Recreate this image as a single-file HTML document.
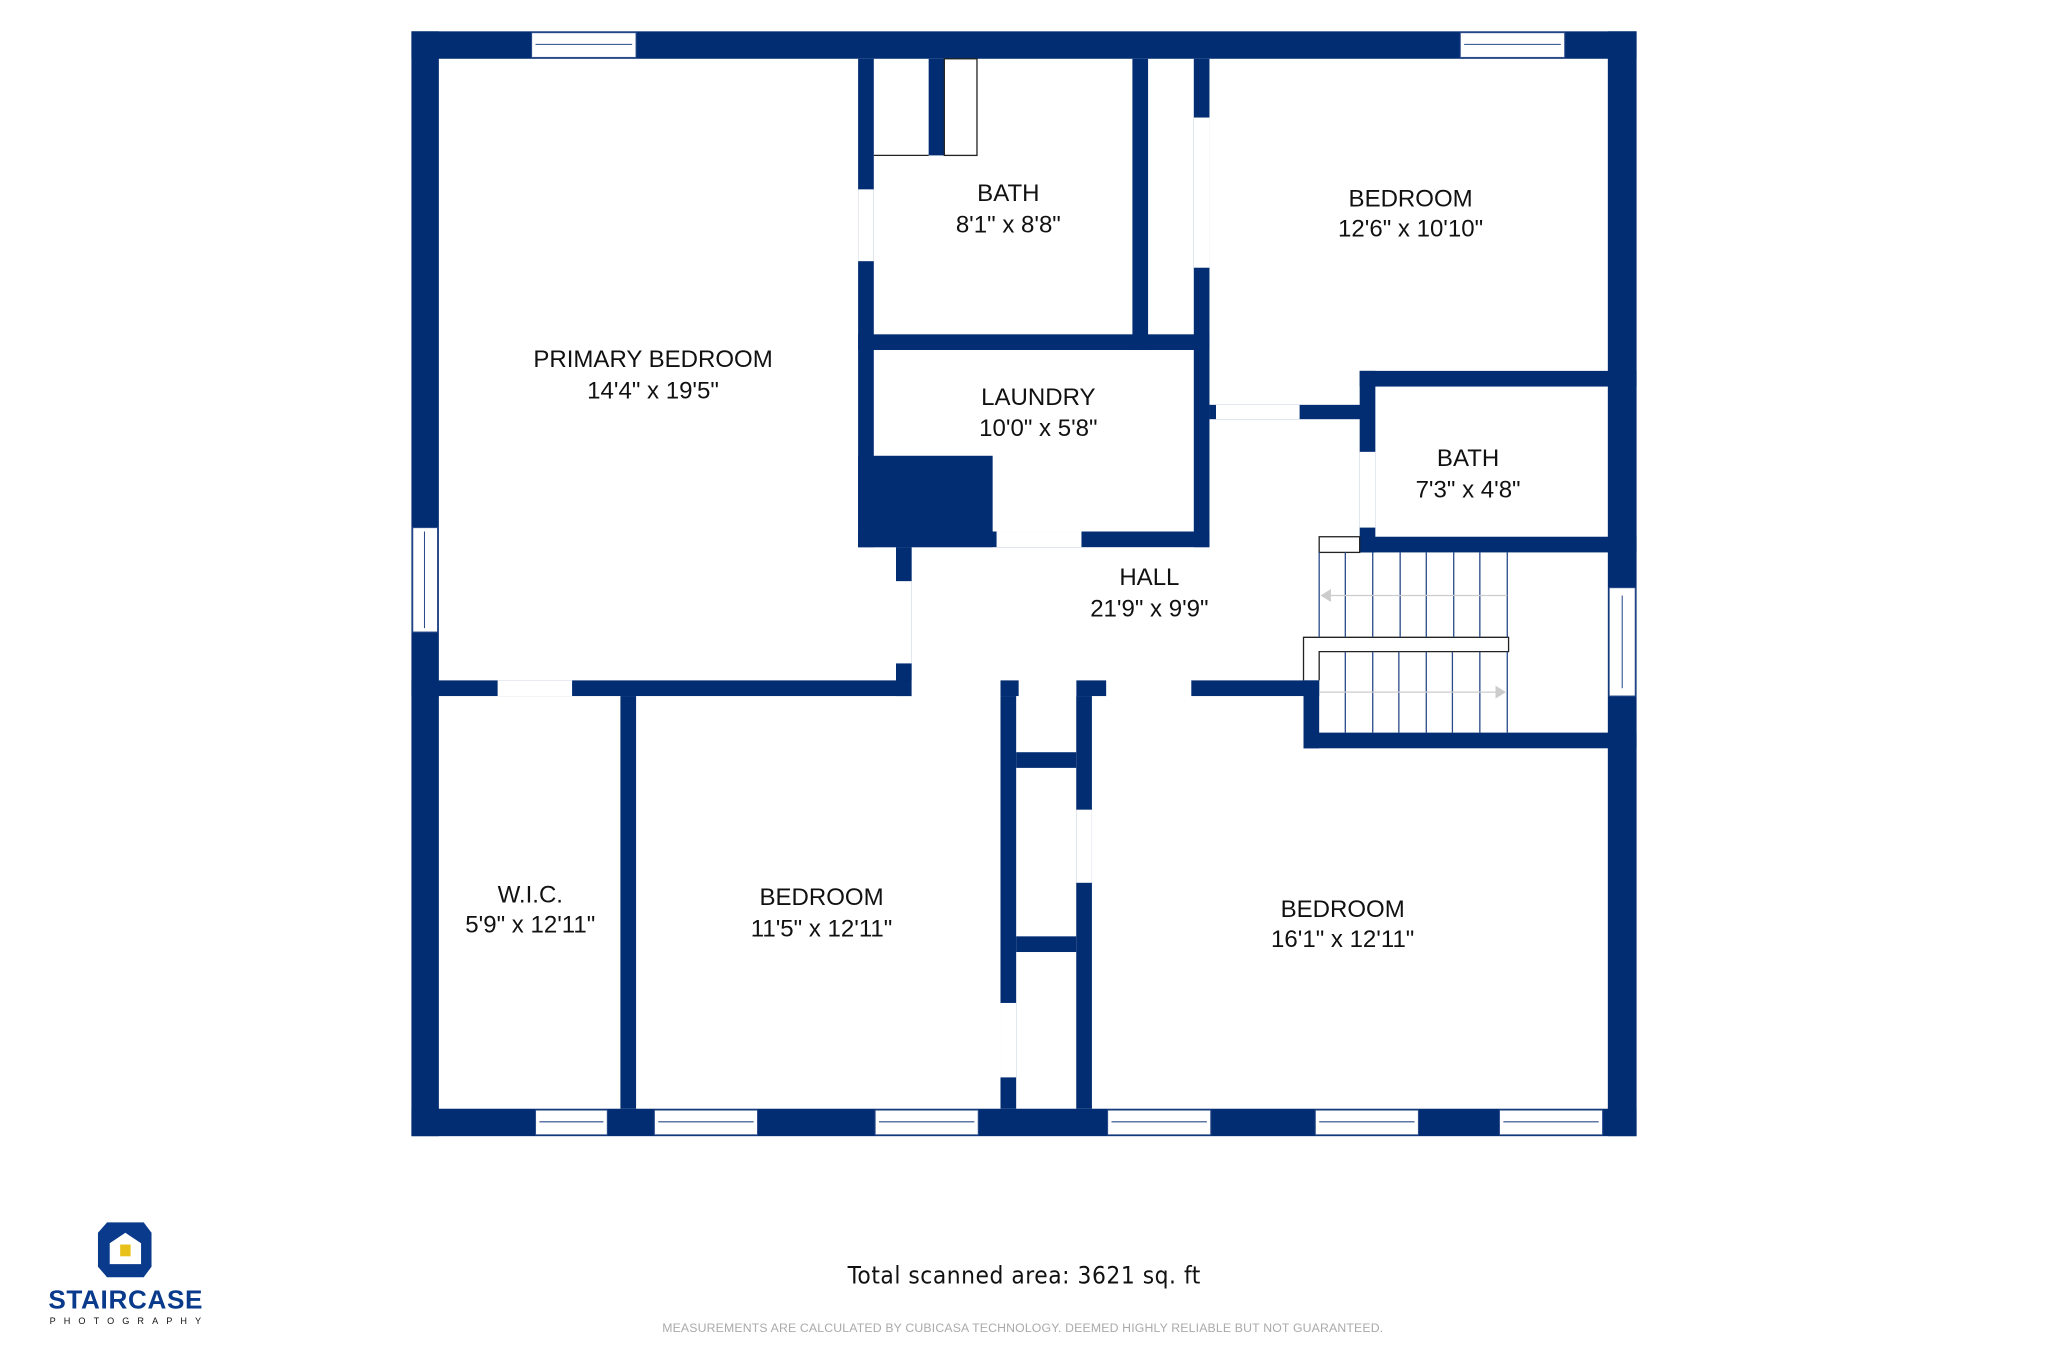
<!DOCTYPE html>
<html><head><meta charset="utf-8"><style>
html,body{margin:0;padding:0;background:#fff;}
svg{display:block;}
text{font-family:"Liberation Sans",sans-serif;fill:#111;}
</style></head><body>
<svg width="2048" height="1366" viewBox="0 0 1568 1046" preserveAspectRatio="none" xmlns="http://www.w3.org/2000/svg">
<g fill="#022d72">
<rect x="315" y="24" width="938" height="21"/>
<rect x="315" y="24" width="21" height="846"/>
<rect x="315" y="849" width="938" height="21"/>
<rect x="1231" y="24" width="22" height="846"/>
<rect x="657" y="45" width="12" height="374"/>
<rect x="711" y="45" width="12" height="74"/>
<rect x="867" y="45" width="12" height="223"/>
<rect x="914" y="45" width="12" height="374"/>
<rect x="657" y="256" width="269" height="12"/>
<rect x="657" y="407" width="269" height="12"/>
<rect x="657" y="349" width="103" height="70"/>
<rect x="926" y="310" width="124" height="11"/>
<rect x="1041" y="284" width="212" height="12"/>
<rect x="1041" y="411" width="212" height="12"/>
<rect x="1041" y="284" width="12" height="139"/>
<rect x="686" y="419" width="12" height="114"/>
<rect x="315" y="521" width="383" height="12"/>
<rect x="766" y="521" width="14" height="12"/>
<rect x="824" y="521" width="23" height="12"/>
<rect x="912" y="521" width="98" height="12"/>
<rect x="998" y="521" width="12" height="52"/>
<rect x="998" y="561" width="255" height="12"/>
<rect x="475" y="533" width="12" height="316"/>
<rect x="766" y="533" width="12" height="316"/>
<rect x="824" y="533" width="12" height="316"/>
<rect x="778" y="576" width="46" height="12"/>
<rect x="778" y="717" width="46" height="12"/>
</g>
<g fill="#fff">
<rect x="657" y="145" width="12" height="55"/>
<rect x="914" y="90" width="12" height="115"/>
<rect x="763" y="407" width="65" height="12"/>
<rect x="931" y="310" width="64" height="11"/>
<rect x="1041" y="346" width="12" height="58"/>
<rect x="686" y="445" width="12" height="63"/>
<rect x="381" y="521" width="57" height="12"/>
<rect x="698" y="521" width="68" height="12"/>
<rect x="780" y="521" width="44" height="12"/>
<rect x="847" y="521" width="65" height="12"/>
<rect x="766" y="768" width="12" height="57"/>
<rect x="824" y="620" width="12" height="56"/>
</g>
<g fill="#fff" stroke="#2a4a8a" stroke-width="0.8">
<rect x="407" y="25" width="80" height="19"/><line x1="410" y1="34" x2="484" y2="34"/>
<rect x="1118" y="25" width="80" height="19"/><line x1="1121" y1="34" x2="1195" y2="34"/>
<rect x="316" y="404" width="19" height="80"/><line x1="325" y1="407" x2="325" y2="481"/>
<rect x="1232" y="450" width="20" height="83"/><line x1="1242" y1="456" x2="1242" y2="527"/>
<rect x="410" y="850" width="55" height="19"/><line x1="413" y1="859" x2="462" y2="859"/>
<rect x="501" y="850" width="79" height="19"/><line x1="504" y1="859" x2="577" y2="859"/>
<rect x="670" y="850" width="79" height="19"/><line x1="673" y1="859" x2="746" y2="859"/>
<rect x="848" y="850" width="79" height="19"/><line x1="851" y1="859" x2="924" y2="859"/>
<rect x="1007" y="850" width="79" height="19"/><line x1="1010" y1="859" x2="1083" y2="859"/>
<rect x="1148" y="850" width="79" height="19"/><line x1="1151" y1="859" x2="1224" y2="859"/>
</g>
<g fill="none" stroke="#222" stroke-width="1">
<rect x="723" y="45" width="25" height="74"/>
<line x1="669" y1="119" x2="711" y2="119"/>
<rect x="1010" y="411" width="31" height="12"/>
<polyline points="998,521 998,488 1155,488 1155,499 1010,499 1010,521"/>
</g>
<g stroke="#2a4a8a" stroke-width="1" fill="none">
<line x1="1010" y1="423" x2="1010" y2="488"/>
<line x1="1030" y1="423" x2="1030" y2="488"/><line x1="1051" y1="423" x2="1051" y2="488"/>
<line x1="1072" y1="423" x2="1072" y2="488"/><line x1="1092" y1="423" x2="1092" y2="488"/>
<line x1="1113" y1="423" x2="1113" y2="488"/><line x1="1133" y1="423" x2="1133" y2="488"/>
<line x1="1154" y1="423" x2="1154" y2="488"/>
<line x1="1030" y1="499" x2="1030" y2="561"/><line x1="1051" y1="499" x2="1051" y2="561"/>
<line x1="1071" y1="499" x2="1071" y2="561"/><line x1="1092" y1="499" x2="1092" y2="561"/>
<line x1="1112" y1="499" x2="1112" y2="561"/><line x1="1133" y1="499" x2="1133" y2="561"/>
<line x1="1154" y1="499" x2="1154" y2="561"/>
</g>
<g stroke="#ccc" stroke-width="1">
<line x1="1016" y1="456" x2="1154" y2="456"/>
<line x1="1010" y1="530" x2="1148" y2="530"/>
</g>
<polygon points="1011,456 1019,451 1019,461" fill="#ccc"/>
<polygon points="1153,530 1145,525 1145,535" fill="#ccc"/>
<g font-size="18.4" text-anchor="middle">
<text x="500" y="281">PRIMARY BEDROOM</text><text x="500" y="305">14'4" x 19'5"</text>
<text x="772" y="154">BATH</text><text x="772" y="178">8'1" x 8'8"</text>
<text x="1080" y="158">BEDROOM</text><text x="1080" y="181">12'6" x 10'10"</text>
<text x="795" y="310">LAUNDRY</text><text x="795" y="334">10'0" x 5'8"</text>
<text x="1124" y="357">BATH</text><text x="1124" y="381">7'3" x 4'8"</text>
<text x="880" y="448">HALL</text><text x="880" y="472">21'9" x 9'9"</text>
<text x="406" y="691">W.I.C.</text><text x="406" y="714">5'9" x 12'11"</text>
<text x="629" y="693">BEDROOM</text><text x="629" y="717">11'5" x 12'11"</text>
<text x="1028" y="702">BEDROOM</text><text x="1028" y="725">16'1" x 12'11"</text>
</g>
<text x="784" y="983" font-size="18.6" text-anchor="middle" textLength="270" style="font-family:'DejaVu Sans Condensed','DejaVu Sans',sans-serif">Total scanned area: 3621 sq. ft</text>
<text x="783" y="1020" font-size="9.4" text-anchor="middle" textLength="552" fill="#aaa" style="fill:#aaa">MEASUREMENTS ARE CALCULATED BY CUBICASA TECHNOLOGY. DEEMED HIGHLY RELIABLE BUT NOT GUARANTEED.</text>
<polygon points="82,936 110,936 116,944 116,970 110,978 82,978 75,970 75,944" fill="#0a3a8c"/>
<polygon points="96,944 108,952 108,968 84,968 84,952" fill="#fff"/>
<rect x="92" y="953" width="8" height="9" fill="#e8c21a"/>
<text x="96" y="1002" font-size="20" text-anchor="middle" textLength="118" fill="#0a3a8c" style="fill:#0a3a8c;font-weight:bold">STAIRCASE</text>
<text x="96" y="1014" font-size="7" text-anchor="middle" textLength="116">PHOTOGRAPHY</text>
</svg>
</body></html>
